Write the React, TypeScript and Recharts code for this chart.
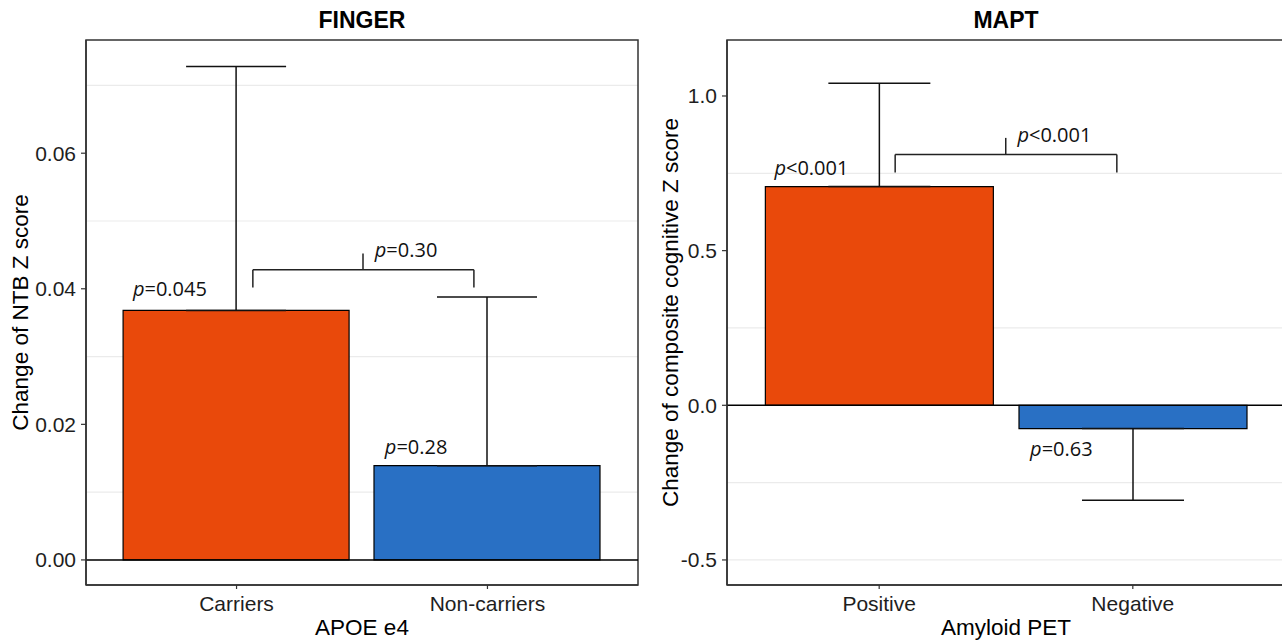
import React from 'react';
import { BarChart, Bar, Cell, XAxis, YAxis, CartesianGrid, ErrorBar, ReferenceLine, ReferenceDot, ReferenceArea, Label } from 'recharts';

// FINGER panel
const fingerGroups = ['Carriers', 'Non-carriers'];
const fingerMean = [0.0368, 0.0139];
const fingerWhisker = [0.0728, 0.0388];
const fingerTicks = [0, 0.02, 0.04, 0.06];
const fingerTickLabels = ['0.00', '0.02', '0.04', '0.06'];
const fingerMinor = [0.01, 0.03, 0.05, 0.07];
const fingerBracketX = [1.065, 1.504, 1.946]; // left leg, middle tick, right leg
const fingerBracketY = [0.0402, 0.0428, 0.0452]; // leg foot, bar, tick top
const fingerPText = ['p=0.045', 'p=0.28', 'p=0.30'];
const fingerPX = [0.587, 1.591, 1.551];
const fingerPY = [0.0389, 0.0156, 0.0447];

// MAPT panel
const maptGroups = ['Positive', 'Negative'];
const maptMean = [0.707, -0.0753];
const maptWhisker = [1.041, -0.307];
const maptTicks = [-0.5, 0, 0.5, 1.0];
const maptTickLabels = ['-0.5', '0.0', '0.5', '1.0'];
const maptMinor = [-0.25, 0.25, 0.75];
const maptBracketX = [1.063, 1.499, 1.937];
const maptBracketY = [0.7523, 0.8105, 0.8645];
const maptPText = ['p<0.001', 'p=0.63', 'p<0.001'];
const maptPX = [0.587, 1.595, 1.545];
const maptPY = [0.746, -0.164, 0.851];

const barColors = ['#E9490B', '#2970C4'];
const X_DOMAIN = [0.4, 2.6];
const FONT = '"Liberation Sans", Arial, sans-serif';
const AXIS = '#333333';

function YTitle({ viewBox, value, dx }: any) {
  const cx = viewBox.x + dx;
  const cy = viewBox.y + viewBox.height / 2;
  return (
    <text x={cx} y={cy} transform={`rotate(-90 ${cx} ${cy})`} textAnchor="middle" dy="0.355em"
      fontFamily={FONT} fontSize={22.5} fill="#000">{value}</text>
  );
}

function PLabel({ cx, cy, text }: any) {
  return (
    <text x={cx} y={cy} fontFamily='"Open Sans", sans-serif' fontSize={20} fill="#111">
      <tspan fontStyle="italic">{text.slice(0, 1)}</tspan>{text.slice(1)}
    </text>
  );
}

function Panel(props: any) {
  const { groups, mean, whisker, ticks, tickLabels, minor, domain, bx, by, pText, pX, pY,
    title, xTitle, yTitle, width, yWidth, marginRight, barSize, whiskerHalf, titleDx } = props;
  const rows = groups.map((g: string, i: number) => ({
    x: i + 1,
    group: g,
    mean: mean[i],
    err: [Math.max(0, mean[i] - whisker[i]), Math.max(0, whisker[i] - mean[i])],
  }));
  const grid = [...ticks, ...minor];
  const fmtY = (v: number) => tickLabels[ticks.indexOf(v)] ?? String(v);
  const fmtX = (v: number) => groups[v - 1] ?? '';
  const seg = (x1: number, y1: number, x2: number, y2: number, k: string) => (
    <ReferenceLine key={k} segment={[{ x: x1, y: y1 }, { x: x2, y: y2 }]} stroke="#222" strokeWidth={1.5} />
  );
  return (
    <BarChart width={width} height={642} data={rows} margin={{ top: 40, right: marginRight, bottom: 0, left: 0 }}>
      <CartesianGrid vertical={false} horizontalValues={grid} stroke="#EBEBEB" strokeWidth={1.2} />
      <XAxis dataKey="x" type="number" domain={X_DOMAIN} allowDataOverflow ticks={[1, 2]} tickFormatter={fmtX}
        height={57} tickSize={4} tickMargin={7}
        tick={{ fontFamily: FONT, fontSize: 21, fill: '#1e1e1e' }} tickLine={{ stroke: AXIS, strokeWidth: 1.2 }}
        axisLine={{ stroke: AXIS, strokeWidth: 1.5 }}>
        <Label value={xTitle} position="insideBottom" offset={7} style={{ fontFamily: FONT, fontSize: 22.5, fill: '#000' }} />
      </XAxis>
      <YAxis width={yWidth} domain={domain} allowDataOverflow ticks={ticks} tickFormatter={fmtY} tickSize={5} tickMargin={5}
        tick={{ fontFamily: FONT, fontSize: 21, fill: '#1e1e1e' }} tickLine={{ stroke: AXIS, strokeWidth: 1.2 }}
        axisLine={{ stroke: AXIS, strokeWidth: 1.5 }} label={<YTitle value={yTitle} dx={titleDx} />} />
      <ReferenceArea x1={X_DOMAIN[0]} x2={X_DOMAIN[1]} y1={domain[0]} y2={domain[1]} fill="none" fillOpacity={0}
        stroke={AXIS} strokeWidth={1.5} ifOverflow="visible">
        <Label value={title} position="top" offset={12} style={{ fontFamily: FONT, fontSize: 23, fontWeight: 'bold', fill: '#000' }} />
      </ReferenceArea>
      <Bar dataKey="mean" barSize={barSize} stroke="#000" strokeWidth={1.2} isAnimationActive={false}>
        {rows.map((r: any, i: number) => <Cell key={r.group} fill={barColors[i]} />)}
        <ErrorBar dataKey="err" direction="y" width={whiskerHalf} stroke="#111" strokeWidth={1.5} isAnimationActive={false} />
      </Bar>
      <ReferenceLine y={0} stroke="#000" strokeWidth={1.5} />
      {seg(bx[0], by[0], bx[0], by[1], 'l')}
      {seg(bx[2], by[0], bx[2], by[1], 'r')}
      {seg(bx[0], by[1], bx[2], by[1], 'h')}
      {seg(bx[1], by[1], bx[1], by[2], 't')}
      {pText.map((t: string, i: number) => (
        <ReferenceDot key={i} x={pX[i]} y={pY[i]} r={0}
          shape={(s: any) => <PLabel cx={s.cx} cy={s.cy} text={t} />} />
      ))}
    </BarChart>
  );
}

export default function App() {
  return (
    <div style={{ position: 'absolute', left: 0, top: 0, width: 1282, height: 642, overflow: 'hidden', background: '#fff' }}>
      <div style={{ position: 'absolute', left: 0, top: 0 }}>
        <Panel groups={fingerGroups} mean={fingerMean} whisker={fingerWhisker} ticks={fingerTicks}
          tickLabels={fingerTickLabels} minor={fingerMinor} domain={[-0.0037, 0.0767]}
          bx={fingerBracketX} by={fingerBracketY} pText={fingerPText} pX={fingerPX} pY={fingerPY}
          title="FINGER" xTitle="APOE e4" yTitle="Change of NTB Z score"
          width={640} yWidth={86} marginRight={2} barSize={226} whiskerHalf={50} titleDx={20} />
      </div>
      <div style={{ position: 'absolute', left: 640, top: 0 }}>
        <Panel groups={maptGroups} mean={maptMean} whisker={maptWhisker} ticks={maptTicks}
          tickLabels={maptTickLabels} minor={maptMinor} domain={[-0.581, 1.181]}
          bx={maptBracketX} by={maptBracketY} pText={maptPText} pX={maptPX} pY={maptPY}
          title="MAPT" xTitle="Amyloid PET" yTitle="Change of composite cognitive Z score"
          width={645} yWidth={87} marginRight={0} barSize={228} whiskerHalf={51} titleDx={30} />
      </div>
    </div>
  );
}
